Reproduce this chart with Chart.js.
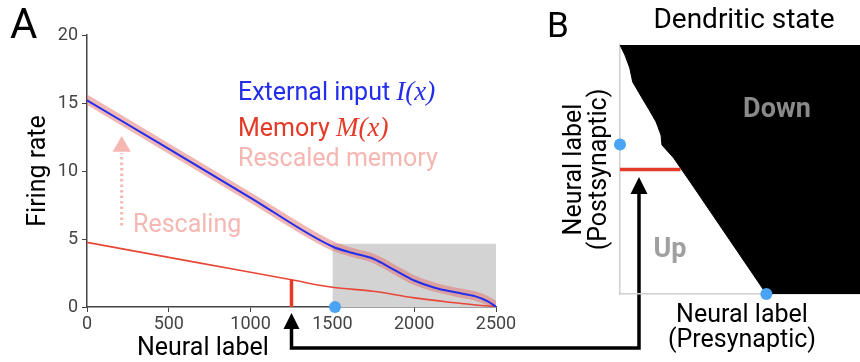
<!DOCTYPE html>
<html>
<head>
<meta charset="utf-8">
<script src="https://cdn.jsdelivr.net/npm/chart.js"></script>
<style>
  html, body { margin: 0; padding: 0; background: #fff; overflow: hidden; }
  #wrap { position: relative; width: 860px; height: 362px; overflow: hidden; }
  #chartA { position: absolute; left: 0; top: 0; }
  #chartB { position: absolute; left: 540px; top: 0; }
</style>
</head>
<body>
<div id="wrap">
  <canvas id="chartA" width="860" height="362"></canvas>
  <canvas id="chartB" width="330" height="362"></canvas>
</div>
<script>
// ---- panel A data ----
var inputX    = [0, 500, 1000, 1500, 1625, 1750, 1875, 2000, 2125, 2250, 2375, 2450, 2500];
var inputY    = [15.2, 11.62, 8.03, 4.45, 3.97, 3.55, 2.75, 1.95, 1.42, 1.08, 0.78, 0.42, 0.02];
var rescaledY = [15.25, 11.65, 8.05, 4.5, 4.0, 3.57, 2.78, 1.97, 1.45, 1.1, 0.8, 0.45, 0.05];
var memoryX   = [0, 500, 1000, 1250, 1500, 1750, 2000, 2250, 2375, 2500];
var memoryY   = [4.75, 3.65, 2.55, 2.0, 1.45, 1.16, 0.67, 0.31, 0.15, 0.03];
var boxX      = [1500, 1500, 2500, 2500];   // grey window
var boxY      = [0, 4.65, 4.65, 0];
var cueX      = 1250;                        // red marker
var cueTop    = 2.0;
var dotA      = {x: 1516, y: 0};
var rescaleArrowX = 212;
var rescaleArrowY = [6.0, 11.3];
var rescaleHeadY  = 11.8;
var xTicksA   = [0, 500, 1000, 1500, 2000, 2500];
var yTicksA   = [0, 5, 10, 15, 20];

// ---- panel B data ----
var boundaryPre  = [0, 50, 100, 130, 220, 300, 370, 420, 430, 550, 620, 720, 1500, 2500];
var boundaryPost = [2500, 2400, 2269, 2129, 1978, 1847, 1727, 1596, 1496, 1365, 1265, 1124, 0, 0];
var dotsB        = [{x: 0, y: 1500}, {x: 1500, y: 0}];
var cueLineB     = [{x: 0, y: 1250}, {x: 620, y: 1250}];

var FONT = 'Roboto';
var BLUE = 'rgb(35,45,235)';
var RED = 'rgb(228,58,40)';
var PINK = 'rgb(246,182,178)';
var DOT = '#4ba3f5';

function pts(xs, ys) {
    return xs.map(function (x, i) { return {x: x, y: ys[i]}; });
}

// text and arrows for panel A
var panelAText = {
    id: 'panelAText',
    afterDraw: function (chart) {
        var ctx = chart.ctx;
        var xs = chart.scales.x;
        ctx.save();
        ctx.textBaseline = 'alphabetic';
        ctx.fillStyle = '#000';
        ctx.font = '42px ' + FONT;
        ctx.fillText('A', 10, 38);

        // legend
        var lx = 238;
        var rows = [
            ['External input ', 'I(x)', BLUE, 100],
            ['Memory ', 'M(x)', RED, 136],
            ['Rescaled memory', '', PINK, 166]
        ];
        rows.forEach(function (r) {
            ctx.fillStyle = r[2];
            ctx.font = '25px ' + FONT;
            ctx.fillText(r[0], lx, r[3]);
            var w = ctx.measureText(r[0]).width;
            if (r[1]) {
                ctx.font = 'italic 27px "Liberation Serif"';
                ctx.fillText(r[1], lx + w, r[3]);
            }
        });

        ctx.fillStyle = PINK;
        ctx.font = '25px ' + FONT;
        ctx.fillText('Rescaling', 133, 232);

        ctx.fillStyle = '#000';
        ctx.font = '25px ' + FONT;
        ctx.fillText('Neural label', 137, 355);

        // connecting arrow from panel A to panel B
        var xl = xs.getPixelForValue(cueX);
        var xr = 639;
        ctx.strokeStyle = '#000';
        ctx.lineWidth = 3.5;
        ctx.beginPath();
        ctx.moveTo(xl, 326);
        ctx.lineTo(xl, 348);
        ctx.lineTo(xr, 348);
        ctx.lineTo(xr, 191);
        ctx.stroke();
        ctx.fillStyle = '#000';
        ctx.beginPath();
        ctx.moveTo(xl, 313); ctx.lineTo(xl - 8, 329); ctx.lineTo(xl + 8, 329); ctx.closePath();
        ctx.fill();
        ctx.beginPath();
        ctx.moveTo(xr, 177); ctx.lineTo(xr - 8.5, 194); ctx.lineTo(xr + 8.5, 194); ctx.closePath();
        ctx.fill();
        ctx.restore();
    }
};

var chartA = new Chart(document.getElementById('chartA'), {
    type: 'line',
    data: {
        datasets: [
            {   // blue dot on axis
                data: [dotA], showLine: false, pointRadius: 6, pointBackgroundColor: DOT,
                pointBorderWidth: 0, clip: false
            },
            {   // red cue marker
                data: [{x: cueX, y: 0}, {x: cueX, y: cueTop}], borderColor: RED, borderWidth: 3.5,
                pointRadius: 0
            },
            {
                label: 'External input',
                data: pts(inputX, inputY), borderColor: BLUE, borderWidth: 2,
                pointRadius: 0, cubicInterpolationMode: 'monotone'
            },
            {
                label: 'Memory',
                data: pts(memoryX, memoryY), borderColor: 'rgb(232,70,55)', borderWidth: 1.6,
                pointRadius: 0, cubicInterpolationMode: 'monotone'
            },
            {
                label: 'Rescaled memory',
                data: pts(inputX, rescaledY), borderColor: 'rgba(226,112,106,0.5)', borderWidth: 9,
                pointRadius: 0, cubicInterpolationMode: 'monotone', borderCapStyle: 'round'
            },
            {   // dotted rescaling arrow
                data: [{x: rescaleArrowX, y: rescaleArrowY[0]}, {x: rescaleArrowX, y: rescaleArrowY[1]}],
                borderColor: PINK, borderWidth: 3, borderDash: [2.5, 3], pointRadius: 0
            },
            {
                data: [{x: rescaleArrowX, y: rescaleHeadY}], showLine: false, pointStyle: 'triangle',
                pointRadius: 10.5, pointBackgroundColor: PINK, pointBorderWidth: 0
            },
            {   // grey window
                data: pts(boxX, boxY), borderWidth: 0, pointRadius: 0, fill: 'origin',
                backgroundColor: '#d3d3d3'
            }
        ]
    },
    options: {
        responsive: false,
        animation: false,
        layout: {padding: {left: 0, top: 35, right: 364, bottom: 0}},
        plugins: {legend: {display: false}, tooltip: {enabled: false}},
        scales: {
            x: {
                type: 'linear', min: 0, max: 2500,
                afterFit: function (s) { s.height = 55; },
                afterBuildTicks: function (s) { s.ticks = xTicksA.map(function (v) { return {value: v}; }); },
                ticks: {font: {family: FONT, size: 18}, color: '#444', padding: 2, maxRotation: 0,
                        callback: function (v) { return String(v); }},
                grid: {drawOnChartArea: false, drawTicks: true, tickLength: 5, color: '#444'},
                border: {color: '#444', width: 1.5}
            },
            y: {
                type: 'linear', min: 0, max: 20,
                afterFit: function (s) { s.width = 87; },
                afterBuildTicks: function (s) { s.ticks = yTicksA.map(function (v) { return {value: v}; }); },
                ticks: {font: {family: FONT, size: 18}, color: '#444', padding: 4,
                        callback: function (v) { return String(v); }},
                grid: {drawOnChartArea: false, drawTicks: true, tickLength: 5, color: '#444'},
                border: {color: '#444', width: 1.5},
                title: {display: true, text: 'Firing rate', color: '#000',
                        font: {family: FONT, size: 25, lineHeight: 1.2}, padding: {top: 24, bottom: 0}}
            }
        }
    },
    plugins: [panelAText]
});

// text for panel B
var panelBText = {
    id: 'panelBText',
    afterDraw: function (chart) {
        var ctx = chart.ctx;
        ctx.save();
        ctx.fillStyle = '#000';
        ctx.font = '35px ' + FONT;
        ctx.textBaseline = 'alphabetic';
        ctx.fillText('B', 7, 37);
        ctx.font = '28px ' + FONT;
        ctx.textAlign = 'center';
        ctx.fillText('Dendritic state', 204, 28);
        ctx.font = 'bold 27px ' + FONT;
        ctx.fillStyle = '#8a8a8a';
        ctx.fillText('Down', 237, 117);
        ctx.fillStyle = '#a0a0a0';
        ctx.fillText('Up', 130, 257);
        ctx.restore();
    }
};

var chartB = new Chart(document.getElementById('chartB'), {
    type: 'line',
    data: {
        datasets: [
            {
                data: dotsB, showLine: false, pointRadius: 6, pointBackgroundColor: DOT,
                pointBorderWidth: 0, clip: false
            },
            {
                data: cueLineB, borderColor: RED, borderWidth: 3.5, pointRadius: 0
            },
            {
                label: 'Down state',
                data: pts(boundaryPre, boundaryPost), borderColor: '#000', borderWidth: 1,
                backgroundColor: '#000', fill: 'end', pointRadius: 0
            }
        ]
    },
    options: {
        responsive: false,
        animation: false,
        layout: {padding: {left: 0, top: 45, right: 0, bottom: 0}},
        plugins: {legend: {display: false}, tooltip: {enabled: false}},
        scales: {
            x: {
                type: 'linear', min: 0, max: 2500,
                afterFit: function (s) { s.height = 68; },
                ticks: {display: false},
                grid: {display: false},
                border: {color: '#cfcfcf', width: 1.5},
                title: {display: true, text: ['Neural label', '(Presynaptic)'], color: '#000',
                        font: {family: FONT, size: 25, lineHeight: 1.0}, padding: {top: 0, bottom: 9}}
            },
            y: {
                type: 'linear', min: 0, max: 2500,
                afterFit: function (s) { s.width = 80; },
                ticks: {display: false},
                grid: {display: false},
                border: {color: '#cfcfcf', width: 1.5},
                title: {display: true, text: ['Neural label', '(Postsynaptic)'], color: '#000',
                        font: {family: FONT, size: 25, lineHeight: 1.0}, padding: {top: 22, bottom: 0}}
            }
        }
    },
    plugins: [panelBText]
});
</script>
</body>
</html>
